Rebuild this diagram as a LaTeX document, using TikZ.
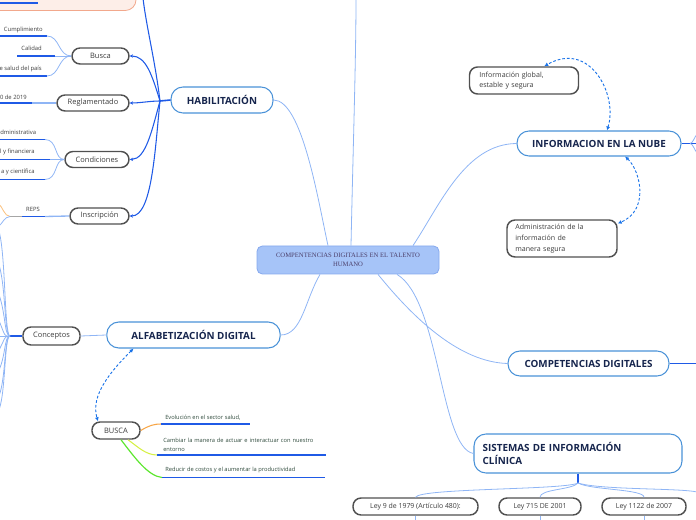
\documentclass[tikz,border=0pt]{standalone}
\usepackage{fontspec}
\setmainfont{Open Sans}
\newfontfamily\centerserif{Liberation Serif}
\usetikzlibrary{arrows.meta,calc}
\definecolor{lb}{HTML}{8FB5F5}
\definecolor{bb}{HTML}{1F5AE6}
\definecolor{topicb}{HTML}{4A92D8}
\definecolor{navy}{HTML}{16254D}
\definecolor{childb}{HTML}{505050}
\definecolor{childt}{HTML}{3C3C3C}
\definecolor{dashc}{HTML}{1A73E8}
\definecolor{centerf}{HTML}{A6C4F8}
\definecolor{centerb}{HTML}{86A9EE}
\definecolor{centert}{HTML}{4C3F6A}
\definecolor{peachf}{HTML}{FDEEE8}
\definecolor{peachb}{HTML}{F2A88C}
\definecolor{leaft}{HTML}{2F4A3C}
\definecolor{orangec}{HTML}{F7A545}
\definecolor{yellowc}{HTML}{D6F046}
\definecolor{greenc}{HTML}{5CE62E}
\tikzset{
  topic/.style={draw=topicb, line width=0.8pt, fill=white, rounded corners=9pt,
    font=\fontsize{7.4}{9.5}\selectfont\bfseries, text=navy, inner sep=0pt, align=center},
  child/.style={draw=childb, line width=1.1pt, fill=white, rounded corners=6pt,
    font=\fontsize{5.6}{7}\selectfont, text=childt, inner sep=0pt, align=center},
  leaf/.style={font=\fontsize{4.4}{5.5}\selectfont, text=childt, inner sep=0pt},
  bleaf/.style={font=\fontsize{4.3}{7}\selectfont, text=leaft, inner sep=0pt, align=left},
  lconn/.style={draw=lb, line width=0.6pt},
  bconn/.style={draw=bb, line width=0.8pt},
  uline/.style={draw=bb, line width=1.1pt},
  harrow/.style={bconn, -{Stealth[length=2.5pt,width=2.5pt]}},
  dasharrow/.style={draw=dashc, line width=0.7pt, dash pattern=on 2pt off 1.5pt,
    {Latex[length=3pt,width=3pt]}-{Latex[length=3pt,width=3pt]}}
}
\begin{document}
\begin{tikzpicture}[x=0.75pt,y=-0.75pt]
\useasboundingbox (0,0) rectangle (696,520);

% peach box at top left (cut off)
\draw[draw=peachb, fill=peachf, line width=0.6pt, rounded corners=8pt] (-20,-40) rectangle (136,10.5);
\draw[uline] (-2,3) -- (38,3);

% main nodes
\node[draw=centerb, fill=centerf, line width=0.6pt, rounded corners=4pt, minimum width=136.5pt, minimum height=21pt,
  inner sep=0pt, align=center, text=centert, font=\centerserif\fontsize{5}{7.2}\selectfont] (center) at (348,260)
  {COMPENTENCIAS DIGITALES EN EL TALENTO\\HUMANO};
\node[topic, minimum width=76.5pt, minimum height=19.5pt] (hab) at (222,100) {HABILITACIÓN};
\node[topic, minimum width=123pt, minimum height=18.75pt] (nube) at (599,143.5) {INFORMACION EN LA NUBE};
\node[topic, minimum width=120.75pt, minimum height=18.75pt] (comp) at (588.5,363.5) {COMPETENCIAS DIGITALES};
\node[topic, minimum width=130pt, minimum height=19.5pt] (alf) at (193.5,335) {ALFABETIZACIÓN DIGITAL};
\node[topic, minimum width=156pt, minimum height=29.25pt, text width=143pt, align=left] (sis) at (578,453.5)
  {SISTEMAS DE INFORMACIÓN\\CLÍNICA};

% child nodes
\node[child, minimum width=42.75pt, minimum height=12pt] (busca) at (100.5,56) {Busca};
\node[child, minimum width=54pt, minimum height=12pt] (regl) at (93,103) {Reglamentado};
\node[child, minimum width=48pt, minimum height=12pt] (cond) at (97,159.5) {Condiciones};
\node[child, minimum width=44.25pt, minimum height=12pt] (insc) at (99.5,216) {Inscripción};
\node[child, minimum width=42.75pt, minimum height=13.5pt] (conc) at (51.5,336) {Conceptos};
\node[child, minimum width=36pt, minimum height=12.75pt] (busca2) at (116,430.5) {BUSCA};
\node[child, minimum width=81.75pt, minimum height=20.25pt, text width=67pt, align=left,
  font=\fontsize{5.3}{8}\selectfont] (infog) at (524,80.5) {Información global,\\estable y segura};
\node[child, minimum width=82.5pt, minimum height=27.75pt, text width=70pt, align=left,
  font=\fontsize{5.3}{8}\selectfont] (admin) at (562,238.5) {Administración de la\\información de\\manera segura};
\node[child, minimum width=93.75pt, minimum height=12.75pt, font=\fontsize{5.2}{7}\selectfont] (ley1) at (415.5,506.5) {Ley 9 de 1979 (Artículo 480):};
\node[child, minimum width=61.5pt, minimum height=12.75pt, font=\fontsize{5.2}{7}\selectfont] (ley2) at (540,506.5) {Ley 715 DE 2001};
\node[child, minimum width=63pt, minimum height=12.75pt, font=\fontsize{5.2}{7}\selectfont] (ley3) at (644,506.5) {Ley 1122 de 2007};

% connectors from center
\draw[lconn] ($(center.north)+(3,0)$) .. controls (353,150) and (356,60) .. (356,-2);
\draw[lconn] ($(center.north)+(-20,0)$) .. controls (318,200) and (302,100) .. (hab.east);
\draw[lconn] ($(center.north)+(65,0)$) .. controls (440,205) and (465,144) .. (nube.west);
\draw[lconn] ($(center.south)+(-28,0)$) .. controls (305,300) and (302,335) .. (alf.east);
\draw[lconn] ($(center.south)+(30,0)$) .. controls (415,320) and (460,362) .. (comp.west);
\draw[lconn] ($(center.south)+(49,0)$) .. controls (440,300) and (440,448) .. (sis.west);

% HABILITACION hub
\coordinate (hhub) at (160,101);
\draw[bconn, line width=1.2pt] (hab.west) -- (hhub);
\draw[bconn] (hhub) .. controls (155,60) and (146,25) .. (143,-2);
\draw[harrow] (hhub) .. controls (152,75) and (146,56) .. (busca.east);
\draw[harrow] (hhub) .. controls (150,101) and (140,103) .. (regl.east);
\draw[harrow] (hhub) .. controls (152,130) and (146,159) .. (cond.east);
\draw[harrow] (hhub) .. controls (155,150) and (152,216) .. (insc.east);

% Busca leaves
\node[leaf, anchor=east] (l1) at (43,29.5) {Cumplimiento};
\draw[uline] (-2,36) -- (47,36);
\draw[lconn] (47,36) .. controls (60,36) and (58,56) .. (busca.west);
\node[leaf, anchor=east] (l2) at (42,48.5) {Calidad};
\draw[uline] (17,56) -- (55,56);
\draw[lconn] (55,56) -- (busca.west);
\node[leaf, anchor=east] (l3) at (42,69) {e salud del país};
\draw[uline] (-2,76) -- (47,76);
\draw[lconn] (47,76) .. controls (60,76) and (58,56) .. (busca.west);

% Reglamentado leaf
\node[leaf, anchor=east] (l4) at (27,97) {0 de 2019};
\draw[uline] (-2,103) -- (32,103);
\draw[lconn, line width=1pt] (32,103) -- (regl.west);

% Condiciones leaves
\node[leaf, anchor=west] (l5) at (0,132) {dministrativa};
\draw[uline] (-2,139.5) -- (45,139.5);
\draw[lconn] (45,139.5) .. controls (58,139.5) and (54,159.5) .. (cond.west);
\node[leaf, anchor=east] (l6) at (35,152) {l y financiera};
\draw[uline] (-2,159.5) -- (50,159.5);
\draw[lconn] (50,159.5) -- (cond.west);
\node[leaf, anchor=east] (l7) at (35,172) {a y científica};
\draw[uline] (-2,179.5) -- (45,179.5);
\draw[lconn] (45,179.5) .. controls (58,179.5) and (54,159.5) .. (cond.west);

% Inscripcion leaf
\node[leaf] (l8) at (33,209) {REPS};
\coordinate (ihub) at (10,216.5);
\draw[draw=gray!70, line width=1pt] (ihub) -- (22,216.5);
\draw[uline] (22,216.5) -- (45,216.5);
\draw[lconn, line width=1pt] (45,216.5) -- (insc.west);
\draw[draw=orangec!70, line width=0.6pt] (ihub) .. controls (4,216) and (3,207) .. (-2,203);
\draw[lconn] (ihub) .. controls (4,217) and (3,223) .. (-2,227);

% Conceptos fan
\coordinate (chub) at (10,336);
\draw[bconn, line width=1.3pt] (conc.west) -- (chub);
\draw[lconn] (alf.west) -- (conc.east);
\foreach \yy in {228,262,292,318} {
  \draw[lconn] (chub) .. controls (4,336) and (6,\yy+20) .. (-2,\yy);
}
\draw[lconn] (chub) -- (-2,336);
\foreach \yy in {352,372,398,412} {
  \draw[lconn] (chub) .. controls (4,336) and (6,\yy-15) .. (-2,\yy);
}

% BUSCA leaves
\draw[draw=orangec, line width=0.8pt] (busca2.east) .. controls (150,425) and (155,424) .. (161,424);
\draw[uline] (161,424) -- (250,424);
\node[bleaf, anchor=south west] (b1) at (165,420.5) {Evolución en el sector salud,};
\draw[draw=yellowc, line width=0.8pt] ($(busca2.south)+(12,0)$) .. controls (138,447) and (146,455) .. (157,455);
\draw[uline] (157,455) -- (326,455);
\node[bleaf, anchor=south west, text width=170pt] (b2) at (163,452) {Cambiar la manera de actuar e interactuar con nuestro\\entorno};
\draw[draw=greenc, line width=0.9pt] ($(busca2.south)+(5,0)$) .. controls (135,458) and (148,476) .. (162,477.5);
\draw[uline] (162,477.5) -- (325,477.5);
\node[bleaf, anchor=south west] (b3) at (165,473) {Reducir de costos y el aumentar la productividad};

% dashed relationships
\draw[dasharrow] ($(nube.north)+(8,0)$) .. controls (618,95) and (590,40) .. ($(infog.north east)+(-35,0)$);
\draw[dasharrow] ($(nube.south)+(26,0)$) .. controls (640,170) and (650,210) .. ($(admin.east)+(0,-15)$);
\draw[dasharrow] ($(alf.south)+(-60,0)$) .. controls (112,370) and (90,395) .. ($(busca2.north)+(-18,0)$);

% right side continuations
\draw[bconn] (nube.east) -- (697,143.5);
\draw[lconn] (690,143.5) .. controls (693,143) and (694,138) .. (697,134);
\draw[lconn] (690,143.5) .. controls (693,144) and (694,149) .. (697,153);
\draw[bconn] (comp.east) -- (697,363.5);

% SISTEMAS children
\coordinate (shub) at (578,483);
\draw[bconn] (sis.south) -- (shub);
\draw[lconn] (shub) .. controls (565,490) and (420,488) .. (ley1.north);
\draw[lconn] (shub) .. controls (572,490) and (540,489) .. (ley2.north);
\draw[lconn] (shub) .. controls (590,490) and (644,489) .. (ley3.north);
\draw[lconn] (shub) .. controls (600,490) and (680,488) .. (697,492);
\draw[lconn] (ley1.south) -- ++(0,8);
\draw[lconn] (ley2.south) -- ++(0,8);
\draw[lconn] (ley3.south) -- ++(0,8);
\end{tikzpicture}
\end{document}
